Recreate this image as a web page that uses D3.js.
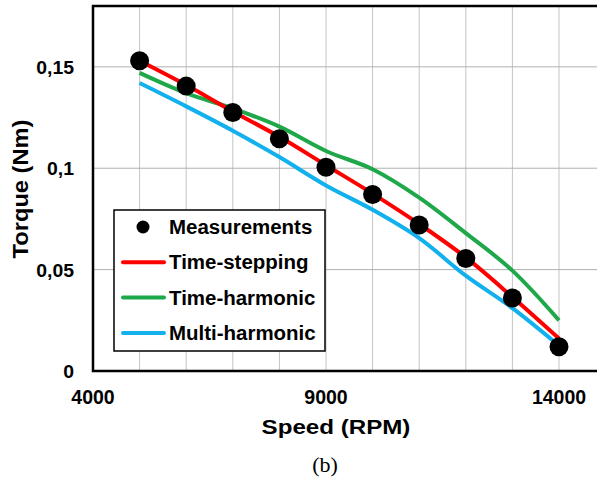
<!DOCTYPE html>
<html>
<head>
<meta charset="utf-8">
<script src="https://cdn.jsdelivr.net/npm/d3@7"></script>
<style>
  body { margin: 0; background: #fff; }
  text { font-family: "Liberation Sans", Arial, sans-serif; font-weight: bold; fill: #000; }
</style>
</head>
<body>
<svg id="chart" width="597" height="484"></svg>
<script>
// Speed (RPM) samples
const speeds = [5000, 6000, 7000, 8000, 9000, 10000, 11000, 12000, 13000, 14000];
// Torque (Nm)
const measurements = [0.153, 0.1405, 0.1275, 0.1145, 0.1005, 0.087, 0.072, 0.0555, 0.036, 0.012];
const timeStepping = [0.153, 0.141, 0.128, 0.1155, 0.1015, 0.0875, 0.0725, 0.056, 0.0365, 0.016];
const timeHarmonic = [0.147, 0.137, 0.1295, 0.1205, 0.1085, 0.0995, 0.0855, 0.068, 0.0495, 0.025];
const multiHarmonic = [0.142, 0.1305, 0.1185, 0.1055, 0.0915, 0.0795, 0.0655, 0.047, 0.031, 0.0125];

const xTicks = [4000, 9000, 14000];
const yTicks = [0, 0.05, 0.1, 0.15];
const legendNames = ["Measurements", "Time-stepping", "Time-harmonic", "Multi-harmonic"];
const colors = ["#000000", "#ff0000", "#1ea84a", "#12b0ec"];

const svg = d3.select("#chart");
const plotLeft = 93, plotTop = 6, plotBottom = 371;

const x = d3.scaleLinear().domain([4000, 15000]).range([plotLeft, plotLeft + 46.6 * 11]);
const y = d3.scaleLinear().domain([0, 0.18]).range([plotBottom, plotTop]);

// text helper, the original font runs a bit wider than Arial
function label(parent, tx, ty, str, size, anchor, sx, rot) {
  return parent.append("text")
    .attr("transform", `translate(${tx},${ty})` + (rot ? ` rotate(${rot})` : "") + ` scale(${sx},1)`)
    .attr("text-anchor", anchor)
    .attr("font-size", size)
    .text(str);
}

// grid
svg.append("g").selectAll("line")
  .data(d3.range(5000, 15001, 1000))
  .join("line")
  .attr("x1", d => x(d)).attr("x2", d => x(d))
  .attr("y1", plotTop).attr("y2", plotBottom)
  .attr("stroke", "#c4c4c4").attr("stroke-width", 1);
svg.append("g").selectAll("line")
  .data(yTicks.slice(1))
  .join("line")
  .attr("x1", plotLeft).attr("x2", 597)
  .attr("y1", d => y(d)).attr("y2", d => y(d))
  .attr("stroke", "#b0b0b0").attr("stroke-width", 1);

// frame
svg.append("path")
  .attr("d", `M597,${plotTop}H${plotLeft}V${plotBottom}H597`)
  .attr("fill", "none").attr("stroke", "#000").attr("stroke-width", 2.5);

// tick labels
yTicks.forEach(d => label(svg, 74, y(d) + 7, d === 0 ? "0" : String(d).replace(".", ","), 18.5, "end", 1.05));
xTicks.forEach(d => label(svg, x(d), 404, d, 19.5, "middle", 1));

// axis titles
label(svg, 336, 434, "Speed (RPM)", 21, "middle", 1.15);
label(svg, 28, 189, "Torque (Nm)", 21.5, "middle", 1.1, -90);
svg.append("text")
  .attr("x", 325).attr("y", 472)
  .attr("text-anchor", "middle").attr("font-size", 22)
  .style("font-family", "'Liberation Serif', 'Times New Roman', serif")
  .style("font-weight", "normal")
  .text("(b)");

// curves
const line = d3.line()
  .x((d, i) => x(speeds[i]))
  .y(d => y(d))
  .curve(d3.curveCatmullRom);

[timeHarmonic, multiHarmonic, timeStepping].forEach((s, k) => {
  let c = [colors[2], colors[3], colors[1]][k];
  svg.append("path")
    .attr("d", line(s))
    .attr("fill", "none")
    .attr("stroke", c)
    .attr("stroke-width", 4)
    .attr("stroke-linecap", "butt");
});

svg.append("g").selectAll("circle")
  .data(measurements)
  .join("circle")
  .attr("cx", (d, i) => x(speeds[i]))
  .attr("cy", d => y(d))
  .attr("r", 9.5)
  .attr("fill", "#000");

// legend
const lg = svg.append("g");
lg.append("rect")
  .attr("x", 114).attr("y", 210).attr("width", 211).attr("height", 141)
  .attr("fill", "#fff").attr("stroke", "#000").attr("stroke-width", 1.5);
legendNames.forEach((name, i) => {
  let cy = 227 + i * 35.3;
  if (i === 0) {
    lg.append("circle").attr("cx", 143).attr("cy", cy).attr("r", 6.5).attr("fill", "#000");
  } else {
    lg.append("line")
      .attr("x1", 123).attr("x2", 164).attr("y1", cy).attr("y2", cy)
      .attr("stroke", colors[i]).attr("stroke-width", 4).attr("stroke-linecap", "round");
  }
  label(lg, 169, cy + 7, name, 19.5, "start", 1.05);
});
</script>
</body>
</html>
